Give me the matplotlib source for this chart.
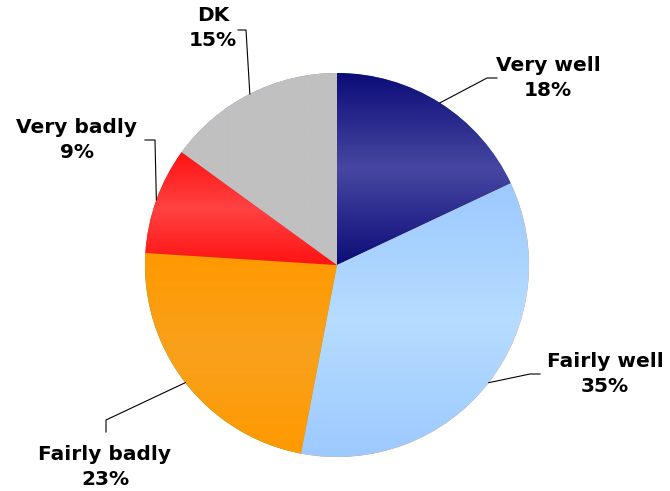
import numpy as np
import matplotlib.pyplot as plt
from matplotlib.colors import to_rgb

# --- data ---
labels = ["Very well", "Fairly well", "Fairly badly", "Very badly", "DK"]
shares = [18, 35, 23, 9, 15]

# (edge colour, middle colour) of the vertical gradient in each slice
gradients = [
    ("#0c0c78", "#4747a2"),
    ("#9cc9ff", "#b6dcff"),
    ("#ff9900", "#f9a11c"),
    ("#ff1212", "#ff4242"),
    ("#c0c0c0", "#c0c0c0"),
]

# label anchors and leader elbows, in pixel coords (y from top)
label_pos = [(548, 78), (605, 374), (105, 467), (77, 140), (213, 28)]
elbows = [[(487, 78), (497, 78)],
          [(530, 374), (540, 374)],
          [(106, 420), (106, 432)],
          [(155, 140), (145, 140)],
          [(246, 30), (238, 30)]]

W, H = 670, 491
CX, CY, R = 337, 265, 192

fig = plt.figure(figsize=(W / 100, H / 100), dpi=100)
ax = fig.add_axes([0, 0, 1, 1])

wedges, _ = ax.pie(shares, startangle=90, counterclock=False, radius=R,
                   center=(CX, H - CY), wedgeprops=dict(linewidth=0))

def vgrad(edge, mid, n=256):
    e = np.array(to_rgb(edge))
    m = np.array(to_rgb(mid))
    t = np.linspace(-1, 1, n)
    w = (1 - np.abs(t))[:, None]
    return (e * (1 - w) + m * w)[:, None, :]

for w, (edge, mid) in zip(wedges, gradients):
    ext = w.get_path().get_extents()
    im = ax.imshow(vgrad(edge, mid), extent=[ext.x0, ext.x1, ext.y0, ext.y1],
                   origin="lower", aspect="auto", interpolation="bilinear", zorder=2)
    im.set_clip_path(w)

# leader lines + labels
for w, lab, val, (lx, ly), elb in zip(wedges, labels, shares, label_pos, elbows):
    ang = np.deg2rad((w.theta1 + w.theta2) / 2)
    sx = CX + R * np.cos(ang)
    sy = (H - CY) + R * np.sin(ang)
    xs = [sx] + [p[0] for p in elb]
    ys = [sy] + [H - p[1] for p in elb]
    ax.plot(xs, ys, color="black", lw=0.8, zorder=3)
    ax.text(lx, H - ly, f"{lab}\n{val}%", ha="center", va="center",
            fontsize=14.5, fontweight="bold", linespacing=1.45, zorder=4)

ax.set_xlim(0, W)
ax.set_ylim(0, H)
ax.set_aspect("auto")
ax.axis("off")

fig.savefig("out.png", dpi=100)
